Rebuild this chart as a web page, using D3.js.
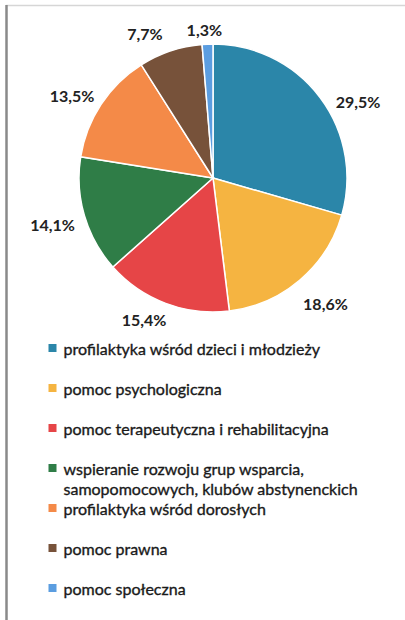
<!DOCTYPE html>
<html>
<head>
<meta charset="utf-8">
<script src="https://cdn.jsdelivr.net/npm/d3@7"></script>
<style>
  html, body { margin: 0; padding: 0; background: #fff; }
  svg { display: block; }
</style>
</head>
<body>
<svg id="chart" width="405" height="620"></svg>
<script>
// Categories, shares (%) and slice colours
const categories = [
  "profilaktyka wśród dzieci i młodzieży",
  "pomoc psychologiczna",
  "pomoc terapeutyczna i rehabilitacyjna",
  "wspieranie rozwoju grup wsparcia,\nsamopomocowych, klubów abstynenckich",
  "profilaktyka wśród dorosłych",
  "pomoc prawna",
  "pomoc społeczna"
];
const shares = [29.5, 18.6, 15.4, 14.1, 13.5, 7.7, 1.3];
const valueLabels = ["29,5%", "18,6%", "15,4%", "14,1%", "13,5%", "7,7%", "1,3%"];
const colors = ["#2b86a9", "#f5b441", "#e64547", "#2f7d47", "#f48a48", "#77523a", "#5b9de0"];

const svg = d3.select("#chart");

// frame lines
svg.append("line").attr("x1", 6).attr("x2", 405).attr("y1", 5.5).attr("y2", 5.5)
  .attr("stroke", "#d6d6d6").attr("stroke-width", 1.5);
svg.append("line").attr("x1", 6.5).attr("x2", 6.5).attr("y1", 5).attr("y2", 620)
  .attr("stroke", "#8a8a8a").attr("stroke-width", 2.5);

const cx = 213, cy = 178, R = 134;
const pie = d3.pie().sort(null).value(d => d)(shares);
const arc = d3.arc().innerRadius(0).outerRadius(R);

const g = svg.append("g").attr("transform", `translate(${cx},${cy})`);
g.selectAll("path.slice").data(pie).enter().append("path")
  .attr("class", "slice")
  .attr("d", arc)
  .attr("fill", (d, i) => colors[i])
  .attr("stroke", "#fff")
  .attr("stroke-width", 1.5);

// value labels outside the pie, nudged off the slice centroid ray
const labelRadius = R + 30;
const labelArc = d3.arc().innerRadius(labelRadius).outerRadius(labelRadius);
const labelOffsets = [[14, 22.5], [6, 1], [-11, -11.5], [-3, 1], [-4, 7.5], [-16, 11], [-2, 15]];
g.selectAll("text.val").data(pie).enter().append("text")
  .attr("class", "val")
  .attr("transform", (d, i) => {
    const [x, y] = labelArc.centroid(d);
    return `translate(${x + labelOffsets[i][0]},${y + labelOffsets[i][1]})`;
  })
  .attr("text-anchor", "middle")
  .attr("dominant-baseline", "central")
  .attr("font-family", "Lato, 'Open Sans', sans-serif")
  .attr("font-weight", "bold")
  .attr("font-size", 16)
  .attr("fill", "#222")
  .text((d, i) => valueLabels[i]);

// legend
const legendX = 48.5, legendY0 = 348, rowStep = 40, lineStep = 20;
const legend = svg.append("g");
categories.forEach((c, i) => {
  const y = legendY0 + rowStep * i;
  legend.append("rect")
    .attr("x", legendX).attr("y", y - 4)
    .attr("width", 8).attr("height", 8)
    .attr("fill", colors[i]);
  const t = legend.append("text")
    .attr("x", legendX + 15).attr("y", y)
    .attr("dominant-baseline", "central")
    .attr("font-family", "Lato, 'Open Sans', sans-serif")
    .attr("font-size", 16)
    .attr("fill", "#1a1a1a")
    .attr("stroke", "#1a1a1a")
    .attr("stroke-width", 0.35);
  c.split("\n").forEach((line, j) => {
    t.append("tspan").attr("x", legendX + 15).attr("dy", j === 0 ? 0 : lineStep).text(line);
  });
});
</script>
</body>
</html>
